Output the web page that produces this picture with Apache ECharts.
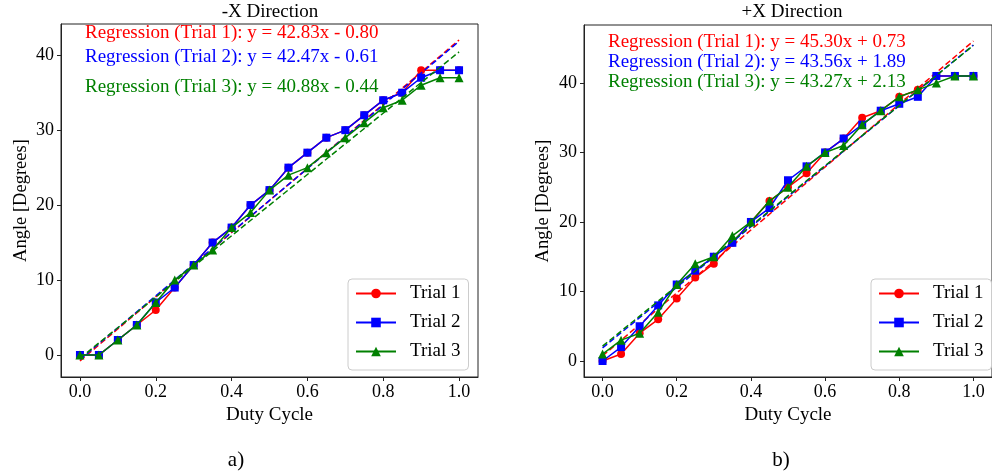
<!DOCTYPE html>
<html>
<head>
<meta charset="utf-8">
<script src="https://cdn.jsdelivr.net/npm/echarts@6/dist/echarts.min.js"></script>
<style>
html,body{margin:0;padding:0;background:#fff;}
#c{width:992px;height:474px;}
</style>
</head>
<body>
<div id="c"></div>
<script>
// ---- data ----
const dutyCycle = [0, 0.05, 0.1, 0.15, 0.2, 0.25, 0.3, 0.35, 0.4, 0.45, 0.5, 0.55, 0.6, 0.65, 0.7, 0.75, 0.8, 0.85, 0.9, 0.95, 1.0];
const trialNames = ['Trial 1', 'Trial 2', 'Trial 3'];
// -X Direction
const negTrial1 = [0, 0, 2, 4, 6, 9, 12, 15, 17, 20, 22, 25, 27, 29, 30, 32, 34, 35, 38, 38, 38];
const negTrial2 = [0, 0, 2, 4, 7, 9, 12, 15, 17, 20, 22, 25, 27, 29, 30, 32, 34, 35, 37, 38, 38];
const negTrial3 = [0, 0, 2, 4, 7, 10, 12, 14, 17, 19, 22, 24, 25, 27, 29, 31, 33, 34, 36, 37, 37];
const negSlopes = [42.83, 42.47, 40.88];
const negIntercepts = [-0.80, -0.61, -0.44];
// +X Direction
const posTrial1 = [0, 1, 4, 6, 9, 12, 14, 17, 20, 23, 25, 27, 30, 32, 35, 36, 38, 39, 41, 41, 41];
const posTrial2 = [0, 2, 5, 8, 11, 13, 15, 17, 20, 22, 26, 28, 30, 32, 34, 36, 37, 38, 41, 41, 41];
const posTrial3 = [1, 3, 4, 7, 11, 14, 15, 18, 20, 23, 25, 28, 30, 31, 34, 36, 38, 39, 40, 41, 41];
const posSlopes = [45.30, 43.56, 43.27];
const posIntercepts = [0.73, 1.89, 2.13];
const regX = [0, 1];

const colors = ['#ff0000', '#0000ff', '#008000'];
const symbols = ['circle', 'rect', 'triangle'];
const symSizes = [8, 8, 9];
const FONT = '"Liberation Serif", "Times New Roman", serif';

function pairs(ys) { return dutyCycle.map((x, i) => [x, ys[i]]); }
function regLine(m, b) { return regX.map(x => [x, m * x + b]); }
function fmtEq(i, m, b) {
  const sign = b < 0 ? '-' : '+';
  return 'Regression (Trial ' + (i + 1) + '): y = ' + m.toFixed(2) + 'x ' + sign + ' ' + Math.abs(b).toFixed(2);
}

const series = [];
[[negTrial1, negTrial2, negTrial3], [posTrial1, posTrial2, posTrial3]].forEach((trials, g) => {
  const slopes = g === 0 ? negSlopes : posSlopes;
  const ints = g === 0 ? negIntercepts : posIntercepts;
  trials.forEach((ys, i) => {
    series.push({
      name: trialNames[i], type: 'line', xAxisIndex: g, yAxisIndex: g,
      data: pairs(ys), symbol: symbols[i], symbolSize: symSizes[i], showSymbol: true,
      lineStyle: { color: colors[i], width: 1.5 }, itemStyle: { color: colors[i] },
      emphasis: { disabled: true }, animation: false, z: 2 + i * 2
    });
    series.push({
      name: 'reg' + g + i, type: 'line', xAxisIndex: g, yAxisIndex: g,
      data: regLine(slopes[i], ints[i]), showSymbol: false, symbol: 'none',
      lineStyle: { color: colors[i], width: 1.5, type: [6, 3] },
      emphasis: { disabled: true }, animation: false, z: 3 + i * 2
    });
  });
});

function xAxis(g, min, max) {
  return {
    type: 'value', gridIndex: g, min: min, max: max,
    name: 'Duty Cycle', nameLocation: 'middle', nameGap: 28,
    nameTextStyle: { fontFamily: FONT, fontSize: 19, color: '#000' },
    axisLine: { show: true, onZero: false, lineStyle: { color: '#222', width: 1 } },
    axisTick: { show: true, inside: false, length: 4, lineStyle: { color: '#222' } },
    axisLabel: { fontFamily: FONT, fontSize: 18, color: '#000', margin: 6,
      showMinLabel: false, showMaxLabel: false, formatter: v => v.toFixed(1) },
    splitLine: { show: false }
  };
}
function yAxis(g, min, max, gap) {
  return {
    type: 'value', gridIndex: g, min: min, max: max,
    name: 'Angle [Degrees]', nameLocation: 'middle', nameGap: gap,
    nameTextStyle: { fontFamily: FONT, fontSize: 18.5, color: '#000' },
    axisLine: { show: true, onZero: false, lineStyle: { color: '#222', width: 1 } },
    axisTick: { show: true, inside: false, length: 4, lineStyle: { color: '#222' } },
    axisLabel: { fontFamily: FONT, fontSize: 18, color: '#000', margin: 7,
      showMinLabel: false, showMaxLabel: false },
    splitLine: { show: false }
  };
}

function legend(left) {
  return {
    data: trialNames, left: left, top: 279, orient: 'vertical',
    itemWidth: 40, itemHeight: 12, itemGap: 10,
    padding: [5, 8, 9, 7], borderColor: '#ccc', borderWidth: 1, borderRadius: 4,
    backgroundColor: 'rgba(255,255,255,0.85)', selectedMode: false,
    textStyle: { fontFamily: FONT, fontSize: 19, color: '#000', lineHeight: 18, padding: [0, 0, 0, 9] }
  };
}

function txt(x, y, s, color, size, align) {
  return { type: 'text', x: x, y: y, silent: true,
    style: { text: s, fill: color, font: size + 'px ' + FONT, textAlign: align || 'left', textVerticalAlign: 'middle' } };
}

const graphics = [
  txt(270, 12, '-X Direction', '#000', 19, 'center'),
  txt(792, 12, '+X Direction', '#000', 19, 'center'),
  txt(236, 460, 'a)', '#000', 21, 'center'),
  txt(781, 460, 'b)', '#000', 21, 'center')
];
const negY = [33, 57, 87];
const posY = [42, 62, 82];
for (let i = 0; i < 3; i++) {
  graphics.push(txt(85, negY[i], fmtEq(i, negSlopes[i], negIntercepts[i]), colors[i], 19));
  graphics.push(txt(608, posY[i], fmtEq(i, posSlopes[i], posIntercepts[i]), colors[i], 19));
}

const chart = echarts.init(document.getElementById('c'), null, { renderer: 'canvas' });
chart.setOption({
  animation: false,
  backgroundColor: '#fff',
  grid: [
    { left: 61, right: 514, top: 24, bottom: 97, show: true, borderColor: '#222', borderWidth: 1, backgroundColor: 'transparent' },
    { left: 584, right: -8, top: 25, bottom: 97, show: true, borderColor: '#222', borderWidth: 1, backgroundColor: 'transparent' }
  ],
  xAxis: [xAxis(0, -0.05, 1.05), xAxis(1, -0.05, 1.05)],
  yAxis: [yAxis(0, -2.94, 44.17, 30), yAxis(1, -2.30, 48.33, 31)],
  legend: [legend(348), legend(871)],
  series: series,
  graphic: graphics
});
</script>
</body>
</html>
